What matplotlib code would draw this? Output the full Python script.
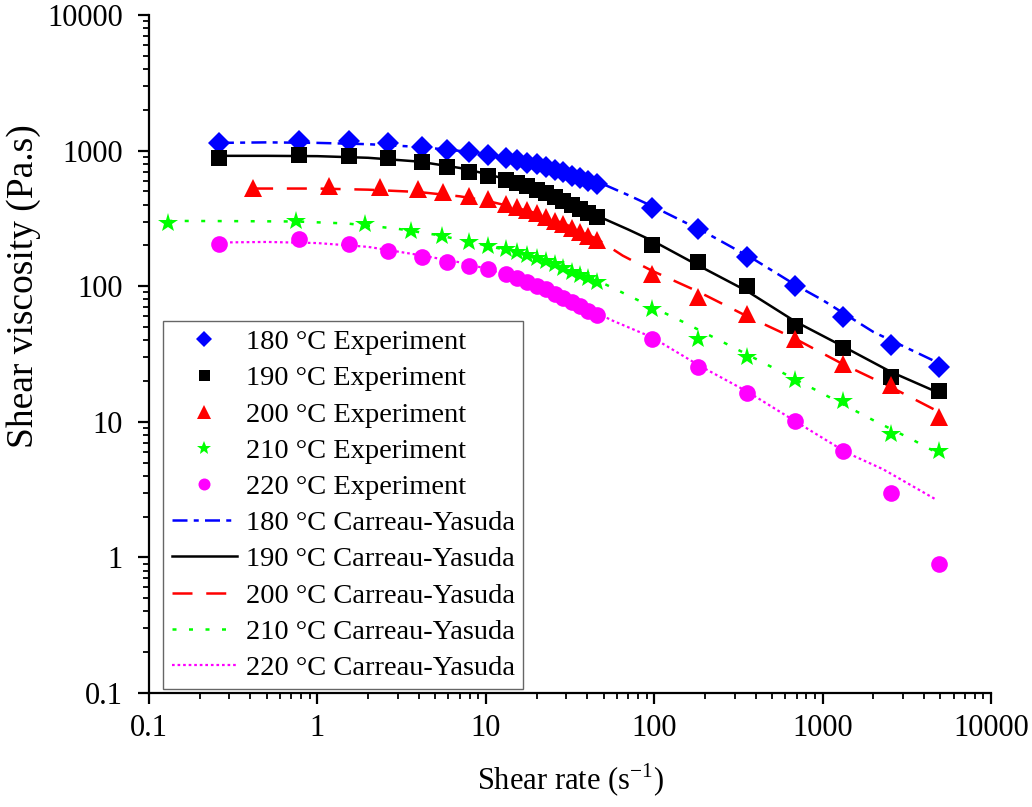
import numpy as np
import matplotlib
matplotlib.use('Agg')
import matplotlib.pyplot as plt
from matplotlib.ticker import FixedLocator, FixedFormatter, LogLocator, NullFormatter

plt.rcParams['font.family'] = ['Liberation Serif', 'DejaVu Serif']
plt.rcParams['mathtext.fontset'] = 'custom'
plt.rcParams['mathtext.rm'] = 'Liberation Serif'

# measured viscosity curves
rate_180 = [0.26, 0.78, 1.55, 2.63, 4.2, 5.9, 7.95, 10.3, 13.2, 15.3, 17.6, 20.1, 22.8, 25.8, 28.7,
            32.5, 36.2, 40.4, 45.8, 97, 183, 356, 686, 1320, 2550, 4920]
eta_180 = [1130, 1180, 1170, 1130, 1070, 1010, 970, 922, 876, 846, 815, 790, 760, 720, 690,
           655, 630, 600, 565, 375, 262, 163, 101, 59, 37, 25.4]

rate_190 = [0.26, 0.78, 1.55, 2.63, 4.2, 5.9, 7.95, 10.3, 13.2, 15.3, 17.6, 20.1, 22.8, 25.8, 28.7,
            32.5, 36.2, 40.4, 45.8, 97, 183, 356, 686, 1320, 2550, 4920]
eta_190 = [875, 930, 920, 885, 830, 755, 700, 650, 605, 572, 545, 515, 485, 455, 425,
           398, 372, 348, 322, 202, 152, 101, 51, 35, 21.5, 17]

rate_200 = [0.415, 1.17, 2.35, 3.96, 5.57, 7.95, 10.3, 13.2, 15.3, 17.6, 20.1, 22.8, 25.8, 28.7,
            32.5, 36.2, 40.4, 45.8, 97, 183, 356, 686, 1320, 2550, 4920]
eta_200 = [530, 550, 540, 520, 495, 466, 436, 407, 387, 365, 345, 325, 305, 287,
           268, 250, 234, 218, 124, 83, 62, 41, 26.5, 18.8, 10.8]

rate_210 = [0.13, 0.75, 1.92, 3.6, 5.5, 7.95, 10.3, 13.2, 15.3, 17.6, 20.1, 22.8, 25.8, 28.7,
            32.5, 36.2, 40.4, 45.8, 97, 183, 356, 686, 1320, 2550, 4920]
eta_210 = [293, 303, 288, 257, 234, 213, 199, 189, 180, 170, 161, 153, 145, 136,
           128, 121, 114, 107, 68, 41, 30, 20.5, 14.2, 8.1, 6.1]

rate_220 = [0.26, 0.78, 1.55, 2.63, 4.2, 5.9, 7.95, 10.3, 13.2, 15.3, 17.6, 20.1, 22.8, 25.8, 28.7,
            32.5, 36.2, 40.4, 45.8, 97, 183, 356, 686, 1320, 2550, 4920]
eta_220 = [204, 224, 204, 181, 163, 150, 141, 134, 124, 114, 108, 101, 95, 88, 82,
           76, 71, 66, 61, 41, 25.5, 16.2, 10.1, 6.1, 3.0, 0.89]

# Carreau-Yasuda fitted curves
fit_rate_180 = [0.26, 0.5, 1, 2, 4, 7, 10, 15, 20, 30, 46, 70, 100, 200, 400, 700, 1000, 2000, 4920]
fit_eta_180 = [1140, 1150, 1140, 1115, 1065, 995, 935, 855, 795, 700, 590, 470, 383, 250, 155, 101, 79, 46, 27]

fit_rate_190 = [0.26, 0.5, 1, 2, 4, 7, 10, 15, 20, 30, 46, 70, 100, 183, 356, 686, 1320, 2550, 4920]
fit_eta_190 = [915, 915, 910, 885, 830, 745, 675, 590, 525, 430, 330, 262, 213, 142, 92, 55, 36, 23.3, 16.3]

fit_rate_200 = [0.415, 1, 2, 4, 7, 10, 15, 20, 30, 46, 65, 97, 183, 356, 686, 1320, 2550, 4920]
fit_eta_200 = [525, 525, 515, 495, 460, 428, 380, 345, 285, 222, 168, 130, 91, 60, 41, 26.6, 18, 11.8]

fit_rate_210 = [0.13, 0.3, 0.75, 1.5, 3, 5, 8, 12, 20, 30, 46, 55, 70, 148, 270, 449, 940, 1990, 3400, 4920]
fit_eta_210 = [303, 302, 300, 290, 265, 240, 213, 190, 160, 137, 110, 99, 85.5, 54.6, 37.4, 27.1, 16.8, 10.3, 7.4, 5.8]

fit_rate_220 = [0.26, 0.5, 1, 2, 4, 7, 10, 15, 20, 30, 46, 57, 97, 187, 360, 705, 1396, 2290, 4640]
fit_eta_220 = [210, 212, 208, 195, 170, 150, 135, 115, 102, 83, 63, 55.5, 42, 25.8, 16.6, 9.9, 5.9, 4.46, 2.7]

temps = ['180', '190', '200', '210', '220']
tick_vals = [0.1, 1, 10, 100, 1000, 10000]
tick_text = ['0.1', '1', '10', '100', '1000', '10000']

exp_sets = [(rate_180, eta_180), (rate_190, eta_190), (rate_200, eta_200),
            (rate_210, eta_210), (rate_220, eta_220)]
fit_sets = [(fit_rate_180, fit_eta_180), (fit_rate_190, fit_eta_190), (fit_rate_200, fit_eta_200),
            (fit_rate_210, fit_eta_210), (fit_rate_220, fit_eta_220)]

colors = ['#0000ff', '#000000', '#ff0000', '#00ff00', '#ff00ff']
markers = ['D', 's', '^', '*', 'o']
msizes = [11, 11, 13.5, 15, 12]
styles = [(0, (6, 2.5, 2, 2.5)), '-', (0, (8, 5.5)), (0, (1.6, 5)), (0, (1.2, 1.3))]
widths = [1.8, 1.8, 1.8, 1.8, 1.6]

fig = plt.figure(figsize=(10.32, 8.07), dpi=100)
ax = fig.add_axes([0.1444, 0.1413, 0.8159, 0.8401])

exp_handles = []
fit_handles = []
for i, t in enumerate(temps):
    fx, fy = fit_sets[i]
    ln, = ax.plot(fx, fy, linestyle=styles[i], color=colors[i], lw=widths[i],
                  label=t + ' \u00b0C Carreau-Yasuda', zorder=2)
    fit_handles.append(ln)
for i, t in enumerate(temps):
    x, y = exp_sets[i]
    mk, = ax.plot(x, y, linestyle='none', marker=markers[i], ms=msizes[i],
                  color=colors[i], markeredgewidth=0, label=t + ' \u00b0C Experiment', zorder=3)
    exp_handles.append(mk)

ax.set_xscale('log')
ax.set_yscale('log')
ax.set_xlim(0.1, 10000)
ax.set_ylim(0.1, 10000)

for spine in ['top', 'right']:
    ax.spines[spine].set_visible(False)
for spine in ['left', 'bottom']:
    ax.spines[spine].set_linewidth(1.6)

for axis in [ax.xaxis, ax.yaxis]:
    axis.set_major_locator(FixedLocator(tick_vals))
    axis.set_major_formatter(FixedFormatter(tick_text))
    axis.set_minor_locator(LogLocator(base=10, subs=np.arange(2, 10), numticks=20))
    axis.set_minor_formatter(NullFormatter())
ax.tick_params(which='major', direction='out', length=8, width=1.6, labelsize=22)
ax.tick_params(which='minor', direction='out', length=4, width=1.3)
ax.tick_params(axis='x', which='major', pad=7)
ax.tick_params(axis='y', which='major', pad=11)

ax.set_xlabel('Shear rate (s$^{\\mathregular{-1}}$)', fontsize=22, labelpad=14)
ax.set_ylabel('Shear viscosity (Pa.s)', fontsize=27)
ax.yaxis.set_label_coords(-0.128, 0.60)

leg = ax.legend(handles=exp_handles + fit_handles, loc='upper left',
                bbox_to_anchor=(0.0166, 0.549), borderaxespad=0, fontsize=20.5,
                frameon=True, fancybox=False, edgecolor='#666666', framealpha=1,
                handlelength=2.3, handletextpad=0.3, labelspacing=0.36,
                borderpad=0.3, markerscale=0.72)
leg.get_frame().set_linewidth(1.0)

fig.savefig('out.png', dpi=100)
